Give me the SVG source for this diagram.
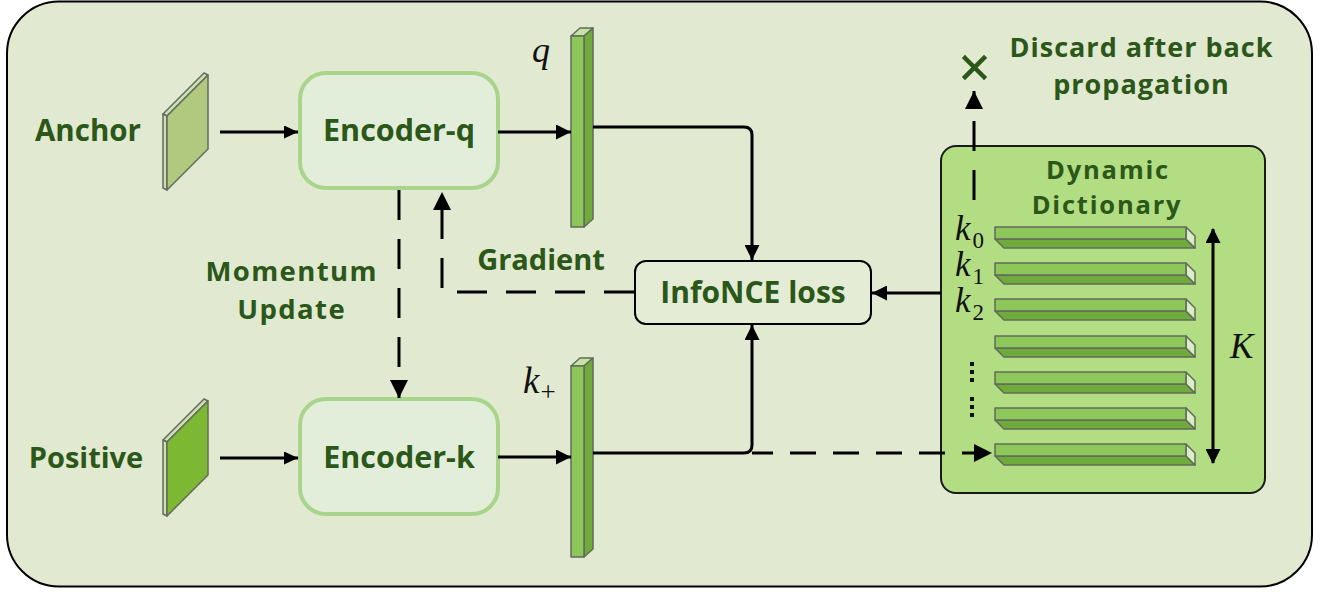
<svg xmlns="http://www.w3.org/2000/svg" width="1320" height="592" viewBox="0 0 1320 592">
  <defs>
    <style>
      .lbl { font-family: "Open Sans", "Liberation Sans", sans-serif; font-weight: 700; fill: #2b5719; text-anchor: middle; }
      .math { font-family: "Liberation Serif", "DejaVu Serif", serif; font-style: italic; fill: #111; }
      .sub { font-family: "Liberation Serif", "DejaVu Serif", serif; fill: #111; }
      .enc { fill: #e2eed9; stroke: #a8d48c; stroke-width: 4; }
      .edge { fill: none; stroke: #000; stroke-width: 3; }
      .dash { stroke-dasharray: 30 19; }
      .front { fill: #8dc659; stroke: #626b5c; stroke-width: 1.5; stroke-linejoin: round; }
      .dark { fill: #6fab3b; stroke: #626b5c; stroke-width: 1.5; stroke-linejoin: round; }
      .pale { fill: #c6e2a4; stroke: #626b5c; stroke-width: 1.5; stroke-linejoin: round; }
      .endf { fill: #d9edc6; stroke: #626b5c; stroke-width: 1.5; stroke-linejoin: round; }
    </style>
    <marker id="ah" markerUnits="userSpaceOnUse" markerWidth="15" markerHeight="15" refX="15" refY="7.5" orient="auto">
      <path d="M0,0 L15,7.5 L0,15 Z" fill="#000"/>
    </marker>
    <marker id="ahs" markerUnits="userSpaceOnUse" markerWidth="14" markerHeight="13" refX="14" refY="6.5" orient="auto">
      <path d="M0,0 L14,6.5 L0,13 Z" fill="#000"/>
    </marker>
    <marker id="ahd" markerUnits="userSpaceOnUse" markerWidth="18" markerHeight="18" refX="18" refY="9" orient="auto">
      <path d="M0,0 L18,9 L0,18 Z" fill="#000"/>
    </marker>
    <marker id="ahk" markerUnits="userSpaceOnUse" markerWidth="15" markerHeight="15" refX="14" refY="7.5" orient="auto-start-reverse">
      <path d="M0,0 L15,7.5 L0,15 Z" fill="#000"/>
    </marker>
    <!-- one dictionary key bar, drawn at y=0 -->
    <g id="keybar">
      <polygon class="dark" points="995,12 1186,12 1195,21 1004,21"/>
      <polygon class="endf" points="1186,0 1195,9 1195,21 1186,12"/>
      <rect class="front" x="995" y="0" width="191" height="12"/>
    </g>
    <!-- one feature vector column, drawn with top at y=0 -->
    <g id="vec">
      <polygon class="pale" points="571,8 580,0 593,0 584,8"/>
      <polygon class="dark" points="584,8 593,0 593,191 584,199"/>
      <rect class="front" x="571" y="8" width="13" height="191"/>
    </g>
  </defs>

  <!-- frame -->
  <rect x="7" y="1.5" width="1305" height="585" rx="52" fill="#e1e9d0" stroke="#000" stroke-width="2"/>

  <!-- inputs -->
  <g id="anchor">
    <polygon class="pale" points="163,114 204,73 208,75 167,116" style="fill:#cfdfb4"/>
    <polygon class="pale" points="163,114 167,116 167,190 163,188" style="fill:#cfdfb4"/>
    <polygon points="167,116 208,75 208,149 167,190" fill="#b0c97e" stroke="#626b5c" stroke-width="1.5" stroke-linejoin="round"/>
    <text class="lbl" x="88" y="141" font-size="29.5">Anchor</text>
  </g>
  <g id="positive">
    <polygon class="pale" points="163,440 204,399 208,401 167,442" style="fill:#cfdfb4"/>
    <polygon class="pale" points="163,440 167,442 167,516 163,514" style="fill:#cfdfb4"/>
    <polygon points="167,442 208,401 208,475 167,516" fill="#7cb832" stroke="#626b5c" stroke-width="1.5" stroke-linejoin="round"/>
    <text class="lbl" x="86" y="468" font-size="29">Positive</text>
  </g>

  <!-- encoders -->
  <g id="encoder-q">
    <rect class="enc" x="300" y="73" width="198" height="115" rx="26"/>
    <text class="lbl" x="399" y="141" font-size="30.5">Encoder-q</text>
  </g>
  <g id="encoder-k">
    <rect class="enc" x="300" y="399" width="198" height="115" rx="26"/>
    <text class="lbl" x="399" y="468" font-size="30.5">Encoder-k</text>
  </g>

  <!-- q and k+ vectors -->
  <g id="q">
    <use href="#vec" transform="translate(0,28)"/>
    <text class="math" x="532" y="62" font-size="36">q</text>
  </g>
  <g id="k-plus">
    <use href="#vec" transform="translate(0,358)"/>
    <text class="math" x="523" y="393" font-size="37">k<tspan class="sub" font-style="normal" font-size="27" dx="1" dy="8">+</tspan></text>
  </g>

  <!-- loss -->
  <g id="infonce">
    <rect x="635" y="261" width="236" height="63" rx="11" fill="#e4ecd6" stroke="#000" stroke-width="2"/>
    <text class="lbl" x="753" y="303" font-size="30">InfoNCE loss</text>
  </g>

  <!-- dynamic dictionary queue -->
  <g id="dictionary">
    <rect x="941" y="146" width="324" height="347" rx="15" fill="#b2dd83" stroke="#1a1a1a" stroke-width="2"/>
    <text class="lbl" font-size="25.5" letter-spacing="1.8"><tspan x="1108" y="178.5">Dynamic</tspan><tspan x="1107" y="214">Dictionary</tspan></text>
    <use href="#keybar" transform="translate(0,227)"/>
    <use href="#keybar" transform="translate(0,263)"/>
    <use href="#keybar" transform="translate(0,299)"/>
    <use href="#keybar" transform="translate(0,336)"/>
    <use href="#keybar" transform="translate(0,372)"/>
    <use href="#keybar" transform="translate(0,408)"/>
    <use href="#keybar" transform="translate(0,444)"/>
    <text class="math" x="955" y="240" font-size="35">k<tspan font-style="normal" font-size="23" dx="2" dy="8">0</tspan></text>
    <text class="math" x="955" y="276" font-size="35">k<tspan font-style="normal" font-size="23" dx="2" dy="8">1</tspan></text>
    <text class="math" x="955" y="312" font-size="35">k<tspan font-style="normal" font-size="23" dx="2" dy="8">2</tspan></text>
    <g fill="#111">
      <rect x="970" y="362" width="4" height="4"/>
      <rect x="970" y="370" width="4" height="4"/>
      <rect x="970" y="378" width="4" height="4"/>
      <rect x="970" y="397" width="4" height="4"/>
      <rect x="970" y="405" width="4" height="4"/>
      <rect x="970" y="413" width="4" height="4"/>
    </g>
    <path class="edge" d="M1213,229 V463" marker-start="url(#ahk)" marker-end="url(#ahk)"/>
    <text class="math" x="1230" y="358" font-size="35">K</text>
  </g>

  <!-- discard note -->
  <g id="discard">
    <path d="M965,58 L984,77 M984,58 L965,77" stroke="#2b5719" stroke-width="4.5" stroke-linecap="square"/>
    <text class="lbl" font-size="27" letter-spacing="1"><tspan x="1141.5" y="57">Discard after back</tspan><tspan x="1141.5" y="94">propagation</tspan></text>
  </g>

  <!-- update labels -->
  <g id="labels">
    <text class="lbl" x="541" y="270" font-size="29">Gradient</text>
    <text class="lbl" font-size="27.5" letter-spacing="1.4"><tspan x="291.7" y="281">Momentum</tspan><tspan x="291.7" y="318.5">Update</tspan></text>
  </g>

  <!-- connectors -->
  <g id="connectors">
    <path class="edge" d="M220,132 H298" marker-end="url(#ahs)"/>
    <path class="edge" d="M220,458 H298" marker-end="url(#ahs)"/>
    <path class="edge" d="M498,132 H571" marker-end="url(#ah)"/>
    <path class="edge" d="M498,457 H571" marker-end="url(#ah)"/>
    <path class="edge" d="M593,127 H744 Q752,127 752,135 V260" marker-end="url(#ah)"/>
    <path class="edge" d="M593,453 H744 Q752,453 752,445 V325" marker-end="url(#ah)"/>
    <path class="edge" d="M752,453 H773"/>
    <path class="edge" d="M790,453 H992" style="stroke-dasharray:26 17" marker-end="url(#ahd)"/>
    <path class="edge" d="M941,293 H872" marker-end="url(#ah)"/>
    <path class="edge dash" d="M634,292 H442 V192" marker-end="url(#ahd)"/>
    <path class="edge dash" d="M399,190 V398" marker-end="url(#ahd)"/>
    <path class="edge dash" d="M974,200 V91" marker-end="url(#ahd)"/>
  </g>
</svg>
